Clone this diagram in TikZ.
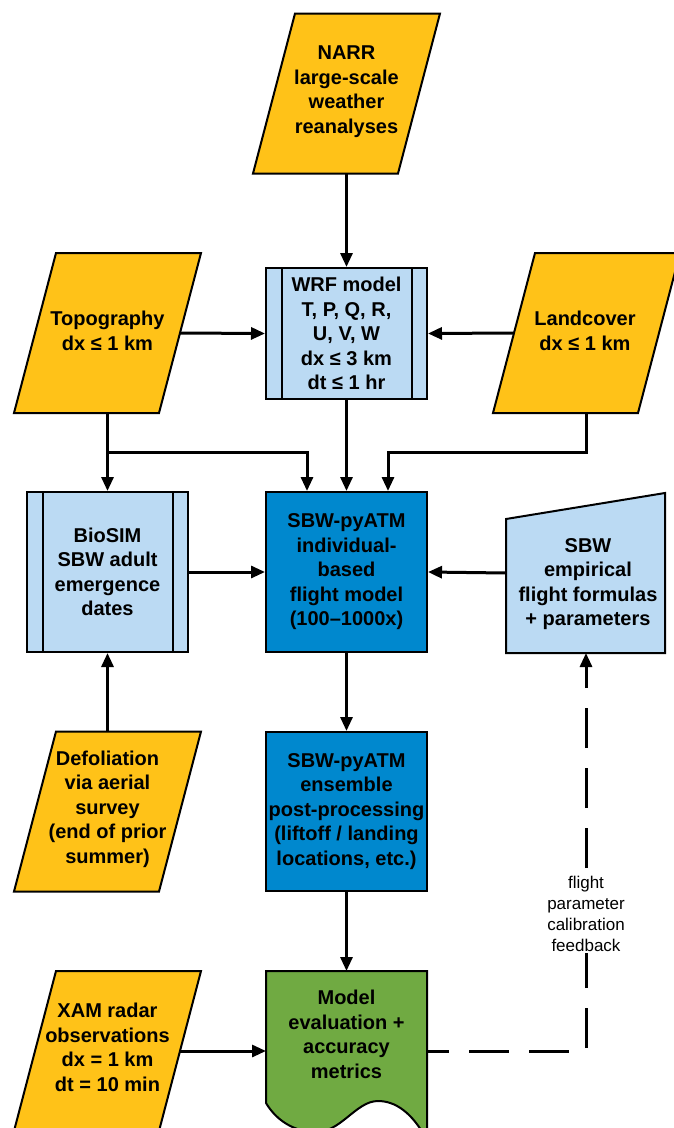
\documentclass[tikz,border=0pt]{standalone}
\usepackage{fontspec}
\setmainfont{Liberation Sans}
\usetikzlibrary{arrows.meta,calc}
\definecolor{inyellow}{RGB}{255,194,24}
\definecolor{lightblue}{RGB}{187,218,243}
\definecolor{darkblue}{RGB}{0,136,206}
\definecolor{evalgreen}{RGB}{112,170,66}
\newcommand\paralshape[2]{\filldraw[shp, fill=inyellow] (#1-51.5,#2-80) -- (#1+93.5,#2-80) -- (#1+51.5,#2+80) -- (#1-93.5,#2+80) -- cycle;}
\begin{document}
\begin{tikzpicture}[x=1pt,y=-1pt,
  txt/.style={font=\fontsize{20}{24.5}\selectfont\bfseries, align=center, inner sep=0pt},
  shp/.style={draw=black, line width=2pt, line join=miter},
  box/.style={shp, rectangle, minimum width=161pt, minimum height=160pt, inner sep=0pt, txt},
  arr/.style={line width=3pt, -{Triangle[length=14pt,width=12pt]}},
  dasharr/.style={arr, dash pattern=on 40pt off 20pt, dash phase=18pt},
  lab/.style={font=\fontsize{17}{21}\selectfont, align=center, inner sep=2pt, fill=white},
]
\useasboundingbox (0,0) rectangle (673,1128);

% ---- parallelogram inputs ----
\paralshape{346.5}{93.5}
\node[txt] (narr) at (346.5,91.5) {NARR\\large-scale\\weather\\reanalyses};
\coordinate (narrS) at (346.5,173.5);

\paralshape{107.5}{333}
\node[txt] (topo) at (107.5,331) {Topography\\dx ≤ 1 km};
\coordinate (topoE) at (180,333);
\coordinate (topoS) at (107.5,413);
\coordinate (j1) at (107.5,452);

\paralshape{586.5}{333}
\node[txt] (land) at (585,331) {Landcover\\dx ≤ 1 km};
\coordinate (landW) at (514,333);
\coordinate (landS) at (586,413);
\coordinate (j2) at (586,452);

\paralshape{107.5}{811.5}
\node[txt] (defol) at (107.5,809) {Defoliation\\via aerial\\survey\\(end of prior\\summer)};
\coordinate (defolN) at (107.5,731.5);

\paralshape{107.5}{1051}
\node[txt] (xam) at (107.5,1047.5) {XAM radar\\observations\\dx = 1 km\\dt = 10 min};
\coordinate (xamE) at (180,1051);

% ---- process boxes ----
\node[box, fill=lightblue, minimum height=131pt] (wrf) at (346.5,333.5) {WRF model\\T, P, Q, R,\\U, V, W\\dx ≤ 3 km\\dt ≤ 1 hr};
\draw[shp] ($(wrf.north west)+(17,0)$) -- ($(wrf.south west)+(17,0)$);
\draw[shp] ($(wrf.north east)+(-16,0)$) -- ($(wrf.south east)+(-16,0)$);

\node[box, fill=lightblue] (bio) at (107.5,572) {BioSIM\\SBW adult\\emergence\\dates};
\draw[shp] ($(bio.north west)+(17,0)$) -- ($(bio.south west)+(17,0)$);
\draw[shp] ($(bio.north east)+(-16,0)$) -- ($(bio.south east)+(-16,0)$);

\node[box, fill=darkblue] (atm) at (346.5,572) {SBW-pyATM\\individual-\\based\\flight model\\(100–1000x)};

\node[box, fill=darkblue, minimum height=159pt] (post) at (346.5,811.5) {SBW-pyATM\\ensemble\\post-processing\\(liftoff / landing\\locations, etc.)};

% manual input
\filldraw[shp, fill=lightblue] (506,519) -- (665,493) -- (665,653) -- (506,653) -- cycle;
\node[txt] (emp) at (588,584) {SBW\\empirical\\flight formulas\\+ parameters};
\coordinate (empW) at (506,573);
\coordinate (empS) at (586,653);

% document shape
\filldraw[shp, fill=evalgreen] (266,971) -- (427,971) -- (427,1140)
  .. controls (412,1112) and (395,1101) .. (378,1101)
  .. controls (355,1101) and (340,1135) .. (312,1132)
  .. controls (290,1130) and (275,1118) .. (266,1103) -- cycle;
\node[txt] (eval) at (346.5,1034.5) {Model\\evaluation +\\accuracy\\metrics};
\coordinate (evalN) at (346.5,971);
\coordinate (evalW) at (266,1051);
\coordinate (evalE) at (427,1051);

% ---- connectors ----
\draw[arr] (narrS) -- (wrf.north);
\draw[arr] (topoE) -- (wrf.west);
\draw[arr] (landW) -- (wrf.east);
\draw[arr] (topoS) -- (bio.north);
\draw[arr] (j1) -| ($(atm.north)+(-39.5,0)$);
\draw[arr] (landS) -- (j2) -| ($(atm.north)+(41.5,0)$);
\draw[arr] (wrf.south) -- (atm.north);
\draw[arr] (bio.east) -- (atm.west);
\draw[arr] (empW) -- (atm.east);
\draw[arr] (atm.south) -- (post.north);
\draw[arr] (defolN) -- (bio.south);
\draw[arr] (post.south) -- (evalN);
\draw[arr] (xamE) -- (evalW);
\draw[dasharr] (evalE) -| (empS);
\node[lab] (fb) at (586,913.5) {flight\\parameter\\calibration\\feedback};
\end{tikzpicture}
\end{document}
